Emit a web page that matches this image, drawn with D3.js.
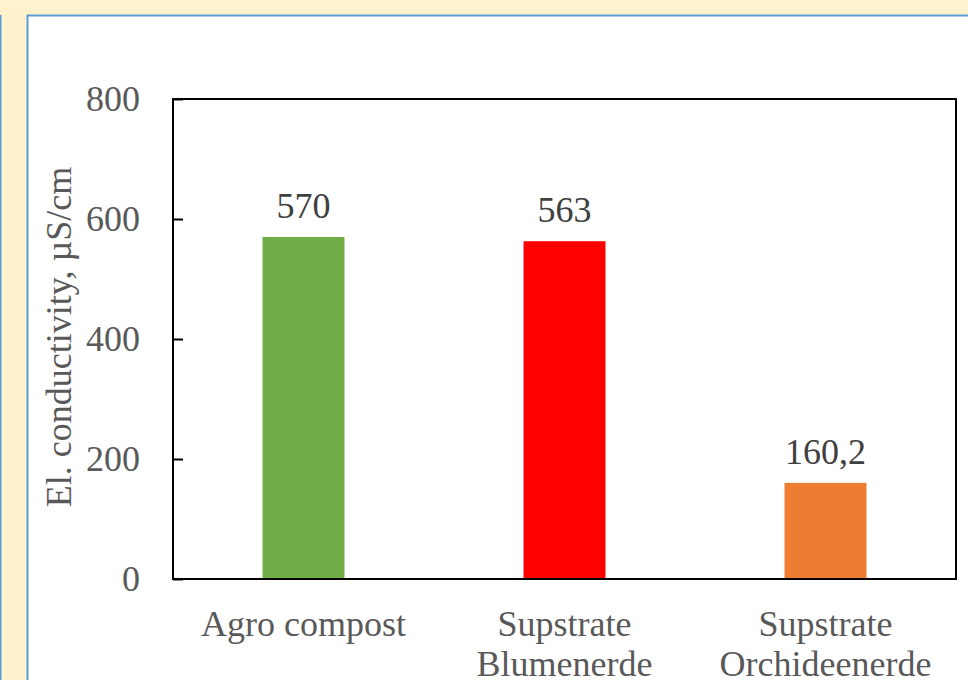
<!DOCTYPE html>
<html>
<head>
<meta charset="utf-8">
<script src="https://cdn.jsdelivr.net/npm/d3@7"></script>
<style>
html,body{margin:0;padding:0;background:#FFF2CC;overflow:hidden;}
svg{display:block;}
</style>
</head>
<body>
<svg id="chart" width="968" height="680"></svg>
<script>
const categories = [["Agro compost"], ["Supstrate", "Blumenerde"], ["Supstrate", "Orchideenerde"]];
const values = [570, 563, 160.2];
const valueLabels = ["570", "563", "160,2"];
const colors = ["#70AD47", "#FF0000", "#ED7D31"];
const yTicks = [0, 200, 400, 600, 800];

const svg = d3.select("#chart");
const W = 968, H = 680;
const font = "'Liberation Serif', 'Times New Roman', serif";

// background
svg.append("rect").attr("x", 0).attr("y", 0).attr("width", W).attr("height", H).attr("fill", "#FFF2CC");
svg.append("line").attr("x1", 0.75).attr("x2", 0.75).attr("y1", 15).attr("y2", H)
  .attr("stroke", "#5B9BD5").attr("stroke-width", 1.5);
svg.append("rect").attr("x", 27.5).attr("y", 15.5).attr("width", W + 20).attr("height", H + 20)
  .attr("fill", "#FFFFFF").attr("stroke", "#5B9BD5").attr("stroke-width", 2);

const m = {left: 173, top: 99, right: 956, bottom: 579};
const ids = categories.map((c, i) => i);
const x = d3.scaleBand().domain(ids).range([m.left, m.right]).paddingInner(0.686).paddingOuter(0.343);
const y = d3.scaleLinear().domain([0, 800]).range([m.bottom, m.top]);

// bars
svg.append("g").selectAll("rect").data(values).join("rect")
  .attr("x", (d, i) => x(i)).attr("width", x.bandwidth())
  .attr("y", d => y(d)).attr("height", d => y(0) - y(d))
  .attr("fill", (d, i) => colors[i]);

// value labels
svg.append("g").selectAll("text").data(values).join("text")
  .attr("x", (d, i) => x(i) + x.bandwidth() / 2)
  .attr("y", d => y(d) - 19)
  .attr("text-anchor", "middle")
  .attr("font-family", font).attr("font-size", 36).attr("fill", "#404040")
  .text((d, i) => valueLabels[i]);

// frame
svg.append("rect").attr("x", m.left).attr("y", m.top)
  .attr("width", m.right - m.left).attr("height", m.bottom - m.top)
  .attr("fill", "none").attr("stroke", "#000").attr("stroke-width", 2);

// y axis
const yAxis = d3.axisLeft(y).tickValues(yTicks).tickSize(-10).tickPadding(33).tickFormat(d3.format("d"));
const gy = svg.append("g").attr("transform", `translate(${m.left},0)`).call(yAxis);
gy.select(".domain").remove();
gy.selectAll(".tick line").attr("stroke", "#000").attr("stroke-width", 2);
gy.selectAll(".tick text").attr("font-family", font).attr("font-size", 36).attr("fill", "#595959");

// x axis labels
const gx = svg.append("g");
categories.forEach((lines, i) => {
  const t = gx.append("text")
    .attr("x", x(i) + x.bandwidth() / 2).attr("y", 636)
    .attr("text-anchor", "middle")
    .attr("font-family", font).attr("font-size", 36).attr("fill", "#595959");
  lines.forEach((ln, j) => {
    t.append("tspan").attr("x", x(i) + x.bandwidth() / 2).attr("dy", j === 0 ? 0 : 40).text(ln);
  });
});

// y title
svg.append("text")
  .attr("transform", `translate(71,${(m.top + m.bottom) / 2 - 2}) rotate(-90)`)
  .attr("text-anchor", "middle")
  .attr("font-family", font).attr("font-size", 36).attr("fill", "#595959")
  .text("El. conductivity, µS/cm");
</script>
</body>
</html>
